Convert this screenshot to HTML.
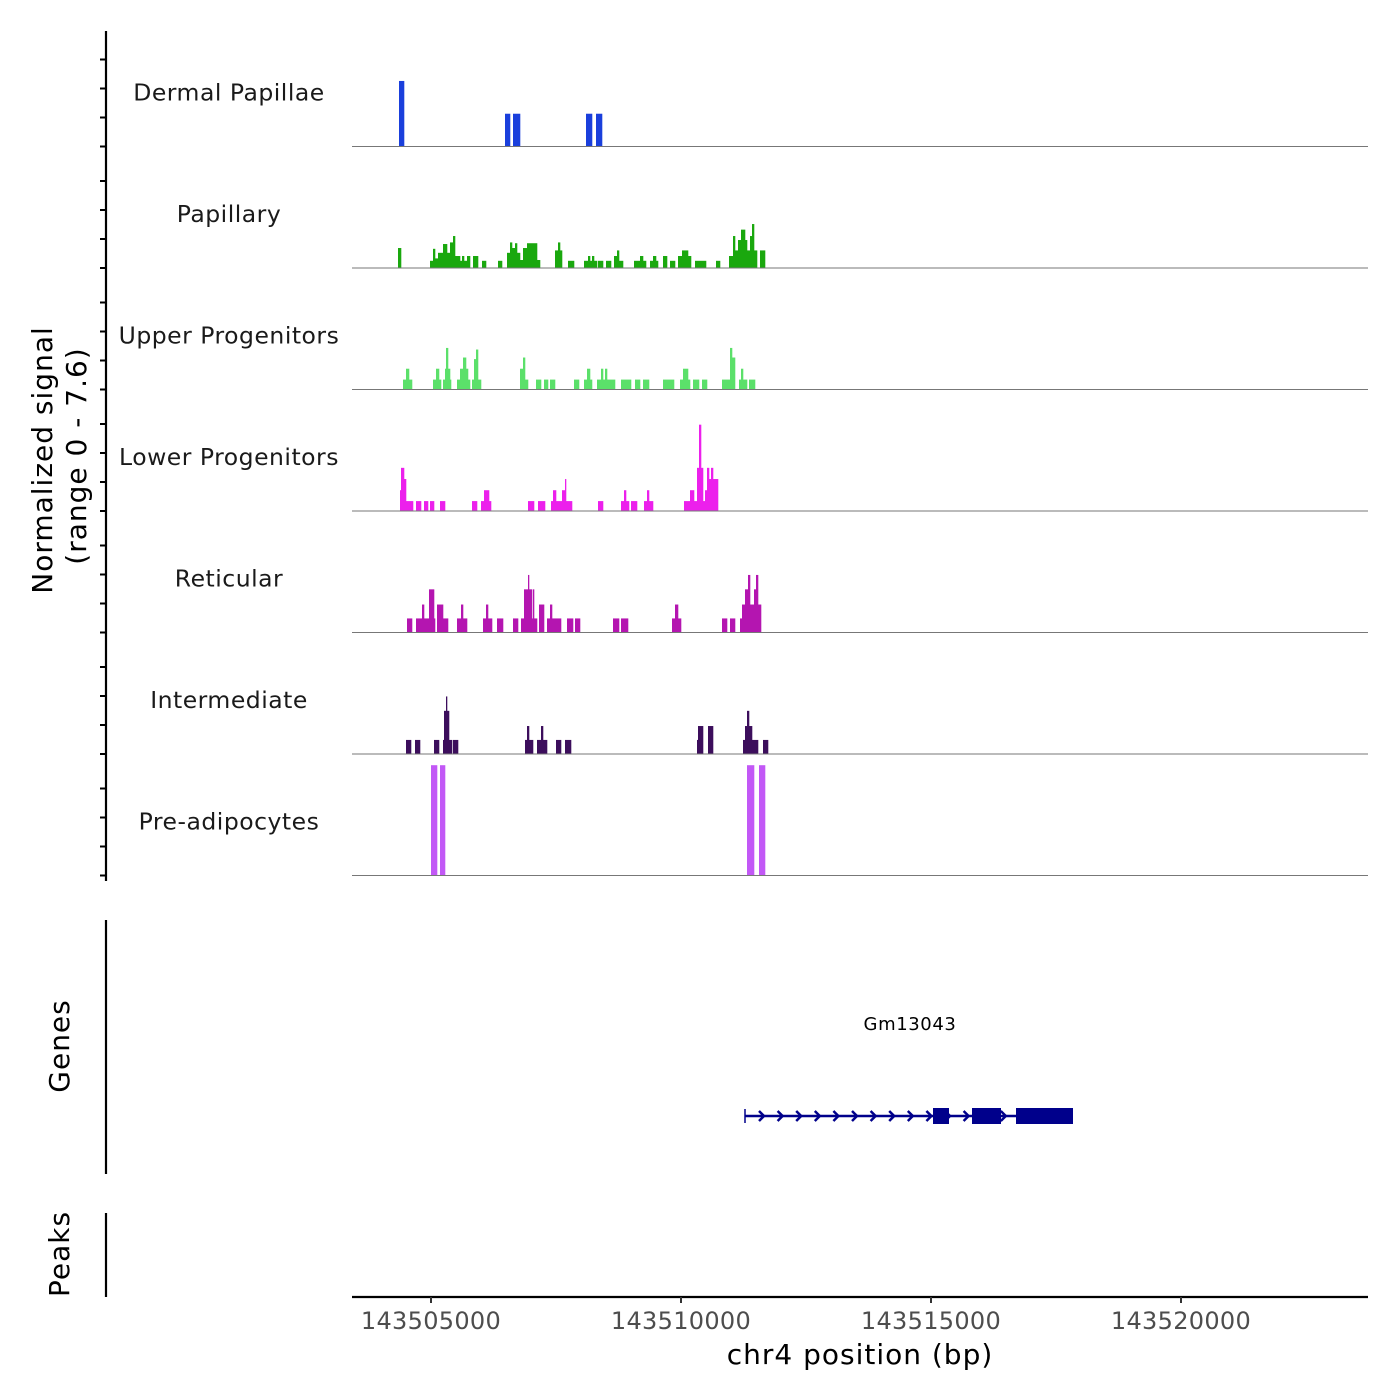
<!DOCTYPE html>
<html><head><meta charset="utf-8"><style>
html,body{margin:0;padding:0;background:#fff;}
svg{display:block;font-family:"DejaVu Sans","Liberation Sans",sans-serif;}
</style></head><body>
<svg id="chart" width="1400" height="1400" viewBox="0 0 1400 1400">
<g id="static">
  <line x1="106" y1="31" x2="106" y2="881" stroke="#000" stroke-width="2.2"/>
  <g id="yticks"></g>
  <text transform="translate(52,460) rotate(-90)" text-anchor="middle" font-size="28" letter-spacing="1" fill="#000">Normalized signal</text>
  <text transform="translate(86,456) rotate(-90)" text-anchor="middle" font-size="28" letter-spacing="1" fill="#000">(range 0 - 7.6)</text>
  <line x1="106" y1="920" x2="106" y2="1174" stroke="#000" stroke-width="2.2"/>
  <text transform="translate(69,1046) rotate(-90)" text-anchor="middle" font-size="28" letter-spacing="1" fill="#000">Genes</text>
  <line x1="106" y1="1213" x2="106" y2="1297" stroke="#000" stroke-width="2.2"/>
  <text transform="translate(69,1254) rotate(-90)" text-anchor="middle" font-size="28" letter-spacing="1" fill="#000">Peaks</text>
  <line x1="352" y1="1297" x2="1368" y2="1297" stroke="#000" stroke-width="2.2"/>
  <text x="860" y="1364" text-anchor="middle" font-size="28" letter-spacing="1" fill="#000">chr4 position (bp)</text>
  <text x="910" y="1030" text-anchor="middle" font-size="18" letter-spacing="0.6" fill="#000">Gm13043</text>
</g>
<g id="tracks"></g>
<g id="xaxis"></g>
<g id="gene"></g>
</svg>
<script>
// positions in kb offset from 143500000 ; [start, end, value]
const trackNames = ["Dermal Papillae","Papillary","Upper Progenitors","Lower Progenitors","Reticular","Intermediate","Pre-adipocytes"];
const trackColors = ["#1a3fdc","#1aa80e","#5be06a","#ec20ec","#b415b0","#3c0e5c","#c258f6"];
const xTicks = [143505000,143510000,143515000,143520000];
const dermal = [[4.36,4.46,4.1],[6.48,6.58,2.05],[6.64,6.78,2.05],[8.10,8.22,2.05],[8.30,8.42,2.05]];
const papillary = [[4.34,4.40,1.25],[4.98,5.04,.45],[5.04,5.08,1.2],[5.08,5.14,.6],[5.14,5.24,.95],[5.24,5.32,1.5],[5.32,5.38,.95],[5.38,5.44,1.6],[5.44,5.48,2.0],[5.48,5.58,.75],[5.58,5.62,.45],[5.62,5.66,.75],[5.66,5.72,.45],[5.72,5.78,.75],[5.84,5.94,.75],[6.02,6.10,.45],[6.34,6.42,.45],[6.52,6.58,.95],[6.58,6.62,1.6],[6.62,6.68,1.25],[6.68,6.72,1.55],[6.72,6.78,.95],[6.78,6.84,.5],[6.84,6.92,1.25],[6.92,7.12,1.55],[7.12,7.18,.5],[7.48,7.54,1.1],[7.54,7.58,1.6],[7.58,7.62,1.1],[7.74,7.86,.45],[8.06,8.14,.45],[8.14,8.18,.75],[8.18,8.22,.45],[8.22,8.26,.75],[8.26,8.32,.45],[8.34,8.44,.45],[8.50,8.60,.45],[8.66,8.72,.75],[8.72,8.76,1.1],[8.76,8.84,.45],[9.06,9.18,.45],[9.18,9.24,.75],[9.24,9.30,.45],[9.38,9.44,.45],[9.44,9.50,.75],[9.50,9.54,.45],[9.64,9.72,.75],[9.78,9.88,.45],[9.94,10.02,.75],[10.02,10.14,1.1],[10.14,10.20,.75],[10.28,10.50,.45],[10.70,10.78,.45],[10.96,11.04,.75],[11.04,11.08,2.0],[11.08,11.14,1.1],[11.14,11.20,1.75],[11.20,11.28,2.4],[11.28,11.32,1.75],[11.32,11.38,1.1],[11.38,11.42,2.0],[11.42,11.46,2.75],[11.46,11.52,1.1],[11.58,11.68,1.1]];
const upper = [[4.44,4.50,.62],[4.50,4.56,1.3],[4.56,4.62,.62],[5.04,5.10,.62],[5.10,5.16,1.3],[5.16,5.20,.62],[5.24,5.28,.62],[5.28,5.30,1.3],[5.30,5.34,2.6],[5.34,5.38,1.3],[5.38,5.40,.62],[5.52,5.58,.62],[5.58,5.64,1.3],[5.64,5.70,2.0],[5.70,5.74,1.3],[5.74,5.78,.62],[5.82,5.86,.62],[5.86,5.90,1.9],[5.90,5.94,2.5],[5.94,6.00,.62],[6.78,6.84,1.3],[6.84,6.88,2.0],[6.88,6.94,.62],[7.10,7.20,.62],[7.26,7.34,.62],[7.38,7.48,.62],[7.86,7.96,.62],[8.06,8.12,.62],[8.12,8.18,1.3],[8.18,8.22,.62],[8.32,8.40,.62],[8.40,8.44,1.3],[8.44,8.48,.62],[8.48,8.52,1.3],[8.52,8.68,.62],[8.80,9.00,.62],[9.08,9.18,.62],[9.24,9.36,.62],[9.64,9.86,.62],[9.98,10.04,.62],[10.04,10.14,1.3],[10.14,10.18,.62],[10.24,10.36,.62],[10.42,10.52,.62],[10.82,10.98,.62],[10.98,11.02,2.6],[11.02,11.08,2.0],[11.16,11.20,.62],[11.20,11.24,1.3],[11.24,11.32,.62],[11.36,11.48,.62]];
const lower = [[4.38,4.40,1.3],[4.40,4.46,2.7],[4.46,4.50,2.0],[4.50,4.64,.62],[4.70,4.80,.62],[4.86,4.94,.62],[4.98,5.06,.62],[5.18,5.28,.62],[5.82,5.92,.62],[6.00,6.06,.62],[6.06,6.16,1.3],[6.16,6.20,.62],[6.94,7.06,.62],[7.14,7.28,.62],[7.40,7.44,.62],[7.44,7.50,1.3],[7.50,7.62,.62],[7.62,7.68,1.3],[7.68,7.70,2.0],[7.70,7.82,.62],[8.34,8.44,.62],[8.80,8.86,.62],[8.86,8.90,1.3],[8.90,8.96,.62],[9.00,9.12,.62],[9.26,9.32,.62],[9.32,9.36,1.3],[9.36,9.44,.62],[10.06,10.18,.62],[10.18,10.26,1.3],[10.26,10.32,.62],[10.32,10.36,2.7],[10.36,10.40,5.4],[10.40,10.44,2.7],[10.44,10.48,.62],[10.48,10.52,1.3],[10.52,10.56,2.7],[10.56,10.60,2.0],[10.60,10.64,2.7],[10.64,10.74,2.0]];
const reticular = [[4.52,4.62,.88],[4.70,4.82,.88],[4.82,4.86,1.75],[4.86,4.96,.88],[4.96,5.06,2.7],[5.06,5.08,.88],[5.12,5.24,1.75],[5.24,5.34,.88],[5.52,5.60,.88],[5.60,5.64,1.75],[5.64,5.72,.88],[6.04,6.10,.88],[6.10,6.14,1.75],[6.14,6.22,.88],[6.32,6.44,.88],[6.64,6.74,.88],[6.80,6.86,.88],[6.86,6.94,2.7],[6.94,6.96,3.6],[6.96,7.02,2.7],[7.02,7.04,.88],[7.04,7.06,2.7],[7.06,7.12,.88],[7.16,7.26,1.75],[7.32,7.38,.88],[7.38,7.42,1.75],[7.42,7.60,.88],[7.72,7.84,.88],[7.88,7.98,.88],[8.64,8.76,.88],[8.80,8.94,.88],[9.82,9.88,.88],[9.88,9.94,1.75],[9.94,10.00,.88],[10.82,10.92,.88],[10.98,11.08,.88],[11.18,11.22,.88],[11.22,11.28,1.75],[11.28,11.34,2.7],[11.34,11.38,3.6],[11.38,11.46,1.75],[11.46,11.50,2.7],[11.50,11.54,3.6],[11.54,11.60,1.75]];
const intermediate = [[4.50,4.60,.88],[4.68,4.78,.88],[5.06,5.16,.88],[5.24,5.26,.88],[5.26,5.30,2.7],[5.30,5.32,3.6],[5.32,5.36,2.7],[5.36,5.42,.88],[5.44,5.54,.88],[6.88,6.92,.88],[6.92,6.96,1.75],[6.96,7.04,.88],[7.12,7.20,.88],[7.20,7.24,1.75],[7.24,7.32,.88],[7.50,7.60,.88],[7.68,7.80,.88],[10.32,10.34,.88],[10.34,10.44,1.75],[10.54,10.64,1.75],[11.24,11.28,.88],[11.28,11.32,1.75],[11.32,11.36,2.7],[11.36,11.42,1.75],[11.42,11.54,.88],[11.64,11.74,.88]];
const preadipocytes = [[5.00,5.12,6.9],[5.18,5.28,6.9],[11.32,11.46,6.9],[11.56,11.68,6.9]];
const geneStart = 11.28, geneEnd = 17.84;
const geneExons = [[15.04,15.36],[15.82,16.40],[16.70,17.84]];

const NS = "http://www.w3.org/2000/svg";
const X0 = 352, DOMAIN_START = 3.42, PX_PER_KB = 50, OFFSET = 143500000;
function xScale(kb){ return X0 + (kb - DOMAIN_START) * PX_PER_KB; }
function xScaleBp(bp){ return xScale((bp - OFFSET)/1000); }
const trackTop = 25, trackH = 121.5, PX_PER_UNIT = trackH/7.6;
function baseline(i){ return trackTop + trackH*(i+1); }
function yScale(i, v){ return baseline(i) - v*PX_PER_UNIT; }
function mk(tag, attrs, parent){ const e=document.createElementNS(NS,tag); for(const k in attrs) e.setAttribute(k, attrs[k]); parent.appendChild(e); return e; }

const trackData = [dermal,papillary,upper,lower,reticular,intermediate,preadipocytes];
const tg = document.getElementById('tracks');
const ytg = document.getElementById('yticks');
trackData.forEach((segs, i) => {
  const g = mk('g', {}, tg);
  
  
  const b = baseline(i);
  segs.forEach(s => {
    const x1 = xScale(s[0]), x2 = xScale(s[1]), y = yScale(i, s[2]);
    const p = mk('rect', {x: x1, y: y, width: x2 - x1 + 0.3, height: b - y, fill: trackColors[i]}, g);
    
    
  });
  const ln = mk('line', {x1: 352, x2: 1368, y1: b, y2: b, stroke: '#777', 'stroke-width': 1}, g);
  
  
  const t = mk('text', {x: 229, y: b - 46, 'text-anchor': 'middle', 'font-size': 23.5, 'letter-spacing': '0.5', fill: '#1a1a1a'}, g);
  t.textContent = trackNames[i];
  
  
  for (let k = 0; k < 4; k++) {
    const yy = b - k*29;
    const tk = mk('line', {x1: 100, x2: 106, y1: yy, y2: yy, stroke: '#000', 'stroke-width': 2}, ytg);
    
    
  }
});

const xg = document.getElementById('xaxis');
xTicks.forEach(v => {
  const x = xScaleBp(v);
  const tk = mk('line', {x1: x, x2: x, y1: 1297, y2: 1303, stroke: '#333', 'stroke-width': 2}, xg);
  
  
  const t = mk('text', {x: x, y: 1329, 'text-anchor': 'middle', 'font-size': 24, 'letter-spacing': '0.3', fill: '#4d4d4d'}, xg);
  t.textContent = String(v);
  
  
});

const gg = document.getElementById('gene');
const gy = 1116, gx1 = xScale(geneStart), gx2 = xScale(geneEnd);
const gl = mk('line', {x1: gx1, x2: gx2, y1: gy, y2: gy, stroke: '#00008b', 'stroke-width': 2.5}, gg);


mk('line', {x1: gx1, x2: gx1, y1: gy-7, y2: gy+7, stroke: '#00008b', 'stroke-width': 1.5}, gg);
for (let x = gx1 + 19; x < gx2 - 4; x += 18.6) {
  const c = mk('polyline', {points: `${x-5},${gy-5} ${x},${gy} ${x-5},${gy+5}`, fill: 'none', stroke: '#00008b', 'stroke-width': 2.5}, gg);
  
  
}
geneExons.forEach(e => {
  const r = mk('rect', {x: xScale(e[0]), y: gy-8, width: xScale(e[1]) - xScale(e[0]), height: 16, fill: '#00008b'}, gg);
  
  
});
</script>
</body></html>
